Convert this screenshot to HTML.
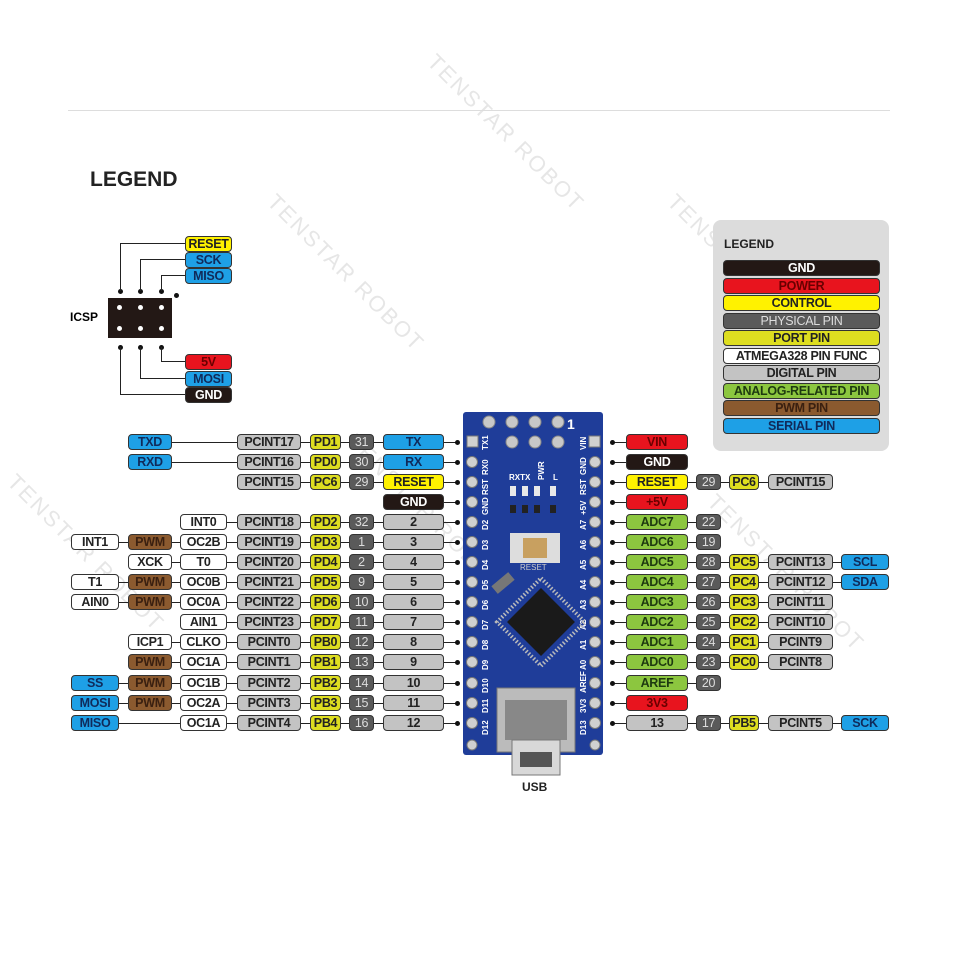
<!DOCTYPE html>
<html><head><meta charset="utf-8"><style>
body{margin:0;width:960px;height:960px;background:#fff;position:relative;overflow:hidden;font-family:"Liberation Sans",sans-serif}
.b{position:absolute;height:14px;line-height:14px;border:1px solid #333;border-radius:4px;font-weight:bold;font-size:12.5px;text-align:center;box-sizing:content-box;letter-spacing:-0.3px;white-space:nowrap;overflow:hidden}
.g{background:#c3c3c3;color:#222}.d{background:#5a5a5a;color:#ddd;font-weight:normal}.p{background:#dede20;color:#222}
.y{background:#fff200;color:#222}.k{background:#231815;color:#fff}.bl{background:#1ea0e6;color:#102a5a}
.w{background:#fff;color:#222}.br{background:#8b5a2f;color:#3a2010}.gr{background:#8cc63f;color:#1e3a10}.r{background:#e8141e;color:#6a0000}
.ln{position:absolute;height:1px;background:#222}
.vl{position:absolute;width:1px;background:#222}
.dot{position:absolute;width:5px;height:5px;border-radius:50%;background:#111}
.wm{position:absolute;color:#e6e6e6;font-size:22px;transform:rotate(45deg);white-space:nowrap;letter-spacing:2px}
</style></head><body>
<div class="wm" style="left:240px;top:260px">TENSTAR ROBOT</div>
<div class="wm" style="left:640px;top:260px">TENSTAR ROBOT</div>
<div class="wm" style="left:320px;top:500px">TENSTAR ROBOT</div>
<div class="wm" style="left:680px;top:560px">TENSTAR ROBOT</div>
<div class="wm" style="left:-20px;top:540px">TENSTAR ROBOT</div>
<div class="wm" style="left:400px;top:120px">TENSTAR ROBOT</div>
<div style="position:absolute;left:68px;top:110px;width:822px;height:1px;background:#ddd"></div>
<div style="position:absolute;left:90px;top:168px;font-size:21px;font-weight:bold;color:#222">LEGEND</div>

<!-- ICSP -->
<div style="position:absolute;left:70px;top:310px;font-size:12px;font-weight:bold">ICSP</div>
<div style="position:absolute;left:108px;top:298px;width:64px;height:40px;background:#231815"></div>
<div class="dot" style="left:117px;top:305px;background:#fff"></div><div class="dot" style="left:138px;top:305px;background:#fff"></div><div class="dot" style="left:159px;top:305px;background:#fff"></div>
<div class="dot" style="left:117px;top:326px;background:#fff"></div><div class="dot" style="left:138px;top:326px;background:#fff"></div><div class="dot" style="left:159px;top:326px;background:#fff"></div>
<div class="dot" style="left:118px;top:289px"></div><div class="dot" style="left:138px;top:289px"></div><div class="dot" style="left:159px;top:289px"></div><div class="dot" style="left:174px;top:293px"></div>
<div class="dot" style="left:118px;top:345px"></div><div class="dot" style="left:138px;top:345px"></div><div class="dot" style="left:159px;top:345px"></div>
<div class="vl" style="left:120px;top:243px;height:48px"></div><div class="ln" style="left:120px;top:243px;width:66px"></div>
<div class="vl" style="left:140px;top:259px;height:32px"></div><div class="ln" style="left:140px;top:259px;width:46px"></div>
<div class="vl" style="left:161px;top:275px;height:16px"></div><div class="ln" style="left:161px;top:275px;width:25px"></div>
<div class="vl" style="left:120px;top:347px;height:47px"></div><div class="ln" style="left:120px;top:394px;width:66px"></div>
<div class="vl" style="left:140px;top:347px;height:31px"></div><div class="ln" style="left:140px;top:378px;width:46px"></div>
<div class="vl" style="left:161px;top:347px;height:14px"></div><div class="ln" style="left:161px;top:361px;width:25px"></div>
<div class="b y" style="left:185px;top:236px;width:45px">RESET</div>
<div class="b bl" style="left:185px;top:252px;width:45px">SCK</div>
<div class="b bl" style="left:185px;top:268px;width:45px">MISO</div>
<div class="b r" style="left:185px;top:354px;width:45px">5V</div>
<div class="b bl" style="left:185px;top:371px;width:45px">MOSI</div>
<div class="b k" style="left:185px;top:387px;width:45px">GND</div>

<!-- Legend box -->
<div style="position:absolute;left:713px;top:220px;width:176px;height:231px;background:#dcdcdc;border-radius:8px"></div>
<div style="position:absolute;left:724px;top:237px;font-size:12px;font-weight:bold;color:#222">LEGEND</div>
<div class="b k" style="left:723px;top:260px;width:155px">GND</div>
<div class="b r" style="left:723px;top:277.5px;width:155px">POWER</div>
<div class="b y" style="left:723px;top:295px;width:155px">CONTROL</div>
<div class="b d" style="left:723px;top:312.5px;width:155px">PHYSICAL PIN</div>
<div class="b p" style="left:723px;top:330px;width:155px">PORT PIN</div>
<div class="b w" style="left:723px;top:347.5px;width:155px">ATMEGA328 PIN FUNC</div>
<div class="b g" style="left:723px;top:365px;width:155px">DIGITAL PIN</div>
<div class="b gr" style="left:723px;top:382.5px;width:155px">ANALOG-RELATED PIN</div>
<div class="b br" style="left:723px;top:400px;width:155px">PWM PIN</div>
<div class="b bl" style="left:723px;top:417.5px;width:155px">SERIAL PIN</div>

<!-- Board -->
<svg style="position:absolute;left:0;top:0" width="960" height="960">
<rect x="463" y="412" width="140" height="343" rx="3" fill="#1f3d99"/>
<g fill="#c8c8c8" stroke="#888">
<circle cx="489" cy="422" r="6"/><circle cx="512" cy="422" r="6"/><circle cx="535" cy="422" r="6"/><circle cx="558" cy="422" r="6"/>
<circle cx="512" cy="442" r="6"/><circle cx="535" cy="442" r="6"/><circle cx="558" cy="442" r="6"/>
</g>
<text x="567" y="429" fill="#fff" font-size="14" font-weight="bold" font-family="Liberation Sans">1</text>
<g fill="#d0d0d0" stroke="#777">
<rect x="467" y="436" width="11" height="11"/><rect x="589" y="436" width="11" height="11"/>
<circle cx="472" cy="462" r="5.5"/><circle cx="472" cy="482" r="5.5"/><circle cx="472" cy="502" r="5.5"/><circle cx="472" cy="522" r="5.5"/><circle cx="472" cy="542" r="5.5"/><circle cx="472" cy="562" r="5.5"/><circle cx="472" cy="582" r="5.5"/><circle cx="472" cy="602" r="5.5"/><circle cx="472" cy="622" r="5.5"/><circle cx="472" cy="642" r="5.5"/><circle cx="472" cy="662" r="5.5"/><circle cx="472" cy="683" r="5.5"/><circle cx="472" cy="703" r="5.5"/><circle cx="472" cy="723" r="5.5"/>
<circle cx="595" cy="462" r="5.5"/><circle cx="595" cy="482" r="5.5"/><circle cx="595" cy="502" r="5.5"/><circle cx="595" cy="522" r="5.5"/><circle cx="595" cy="542" r="5.5"/><circle cx="595" cy="562" r="5.5"/><circle cx="595" cy="582" r="5.5"/><circle cx="595" cy="602" r="5.5"/><circle cx="595" cy="622" r="5.5"/><circle cx="595" cy="642" r="5.5"/><circle cx="595" cy="662" r="5.5"/><circle cx="595" cy="683" r="5.5"/><circle cx="595" cy="703" r="5.5"/><circle cx="595" cy="723" r="5.5"/>
<circle cx="472" cy="745" r="5"/><circle cx="595" cy="745" r="5"/>
</g>
<g fill="#fff" font-size="8" font-weight="bold" font-family="Liberation Sans">
<text transform="translate(488,450) rotate(-90)">TX1</text><text transform="translate(488,475) rotate(-90)">RX0</text><text transform="translate(488,495) rotate(-90)">RST</text><text transform="translate(488,515) rotate(-90)">GND</text><text transform="translate(488,530) rotate(-90)">D2</text><text transform="translate(488,550) rotate(-90)">D3</text><text transform="translate(488,570) rotate(-90)">D4</text><text transform="translate(488,590) rotate(-90)">D5</text><text transform="translate(488,610) rotate(-90)">D6</text><text transform="translate(488,630) rotate(-90)">D7</text><text transform="translate(488,650) rotate(-90)">D8</text><text transform="translate(488,670) rotate(-90)">D9</text><text transform="translate(488,693) rotate(-90)">D10</text><text transform="translate(488,713) rotate(-90)">D11</text><text transform="translate(488,735) rotate(-90)">D12</text>
<text transform="translate(586,450) rotate(-90)">VIN</text><text transform="translate(586,475) rotate(-90)">GND</text><text transform="translate(586,495) rotate(-90)">RST</text><text transform="translate(586,515) rotate(-90)">+5V</text><text transform="translate(586,530) rotate(-90)">A7</text><text transform="translate(586,550) rotate(-90)">A6</text><text transform="translate(586,570) rotate(-90)">A5</text><text transform="translate(586,590) rotate(-90)">A4</text><text transform="translate(586,610) rotate(-90)">A3</text><text transform="translate(586,630) rotate(-90)">A2</text><text transform="translate(586,650) rotate(-90)">A1</text><text transform="translate(586,670) rotate(-90)">A0</text><text transform="translate(586,693) rotate(-90)">AREF</text><text transform="translate(586,713) rotate(-90)">3V3</text><text transform="translate(586,735) rotate(-90)">D13</text>
<text x="509" y="480">RXTX</text><text transform="translate(544,480) rotate(-90)">PWR</text><text x="553" y="480">L</text>
</g>
<g fill="#e8e8e8"><rect x="510" y="486" width="6" height="10"/><rect x="522" y="486" width="6" height="10"/><rect x="534" y="486" width="6" height="10"/><rect x="550" y="486" width="6" height="10"/></g>
<g fill="#222"><rect x="510" y="505" width="6" height="8"/><rect x="522" y="505" width="6" height="8"/><rect x="534" y="505" width="6" height="8"/><rect x="550" y="505" width="6" height="8"/></g>
<rect x="510" y="533" width="50" height="30" fill="#ddd"/><rect x="523" y="538" width="24" height="20" fill="#c8a060"/>
<text x="520" y="570" fill="#ccc" font-size="8" font-family="Liberation Sans">RESET</text>
<rect x="492" y="578" width="22" height="10" fill="#777" transform="rotate(-40 503 583)"/>
<rect x="517" y="598" width="48" height="48" fill="#1a1a1a" transform="rotate(45 541 622)"/>
<rect x="510" y="591" width="62" height="62" fill="none" stroke="#bbb" stroke-width="4" stroke-dasharray="1.5 2" transform="rotate(45 541 622)"/>
<rect x="497" y="688" width="78" height="64" fill="#bbb" stroke="#777"/>
<rect x="505" y="700" width="62" height="40" fill="#888"/>
<rect x="512" y="740" width="48" height="35" fill="#d8d8d8" stroke="#777"/>
<rect x="520" y="752" width="32" height="15" fill="#555"/>
<text x="522" y="791" font-size="12" font-weight="bold" font-family="Liberation Sans" fill="#222">USB</text>
</svg>

<!-- left lines & dots -->
<div class="ln" style="left:171px;top:442px;width:286px"></div>
<div class="ln" style="left:171px;top:462px;width:286px"></div>
<div class="ln" style="left:300px;top:482px;width:157px"></div>
<div class="ln" style="left:443px;top:502px;width:14px"></div>
<div class="ln" style="left:226px;top:522px;width:231px"></div>
<div class="ln" style="left:118px;top:542px;width:339px"></div>
<div class="ln" style="left:171px;top:562px;width:286px"></div>
<div class="ln" style="left:118px;top:582px;width:339px"></div>
<div class="ln" style="left:118px;top:602px;width:339px"></div>
<div class="ln" style="left:226px;top:622px;width:231px"></div>
<div class="ln" style="left:171px;top:642px;width:286px"></div>
<div class="ln" style="left:171px;top:662px;width:286px"></div>
<div class="ln" style="left:118px;top:683px;width:339px"></div>
<div class="ln" style="left:118px;top:703px;width:339px"></div>
<div class="ln" style="left:118px;top:723px;width:339px"></div>
<div class="dot" style="left:455px;top:440px"></div><div class="dot" style="left:455px;top:460px"></div><div class="dot" style="left:455px;top:480px"></div><div class="dot" style="left:455px;top:500px"></div><div class="dot" style="left:455px;top:520px"></div><div class="dot" style="left:455px;top:540px"></div><div class="dot" style="left:455px;top:560px"></div><div class="dot" style="left:455px;top:580px"></div><div class="dot" style="left:455px;top:600px"></div><div class="dot" style="left:455px;top:620px"></div><div class="dot" style="left:455px;top:640px"></div><div class="dot" style="left:455px;top:660px"></div><div class="dot" style="left:455px;top:681px"></div><div class="dot" style="left:455px;top:701px"></div><div class="dot" style="left:455px;top:721px"></div>

<!-- left boxes -->
<div class="b bl" style="left:128px;top:434px;width:42px">TXD</div><div class="b g" style="left:237px;top:434px;width:62px">PCINT17</div><div class="b p" style="left:310px;top:434px;width:29px">PD1</div><div class="b d" style="left:349px;top:434px;width:23px">31</div><div class="b bl" style="left:383px;top:434px;width:59px">TX</div>
<div class="b bl" style="left:128px;top:454px;width:42px">RXD</div><div class="b g" style="left:237px;top:454px;width:62px">PCINT16</div><div class="b p" style="left:310px;top:454px;width:29px">PD0</div><div class="b d" style="left:349px;top:454px;width:23px">30</div><div class="b bl" style="left:383px;top:454px;width:59px">RX</div>
<div class="b g" style="left:237px;top:474px;width:62px">PCINT15</div><div class="b p" style="left:310px;top:474px;width:29px">PC6</div><div class="b d" style="left:349px;top:474px;width:23px">29</div><div class="b y" style="left:383px;top:474px;width:59px">RESET</div>
<div class="b k" style="left:383px;top:494px;width:59px">GND</div>
<div class="b w" style="left:180px;top:514px;width:45px">INT0</div><div class="b g" style="left:237px;top:514px;width:62px">PCINT18</div><div class="b p" style="left:310px;top:514px;width:29px">PD2</div><div class="b d" style="left:349px;top:514px;width:23px">32</div><div class="b g" style="left:383px;top:514px;width:59px">2</div>
<div class="b w" style="left:71px;top:534px;width:46px">INT1</div><div class="b br" style="left:128px;top:534px;width:42px">PWM</div><div class="b w" style="left:180px;top:534px;width:45px">OC2B</div><div class="b g" style="left:237px;top:534px;width:62px">PCINT19</div><div class="b p" style="left:310px;top:534px;width:29px">PD3</div><div class="b d" style="left:349px;top:534px;width:23px">1</div><div class="b g" style="left:383px;top:534px;width:59px">3</div>
<div class="b w" style="left:128px;top:554px;width:42px">XCK</div><div class="b w" style="left:180px;top:554px;width:45px">T0</div><div class="b g" style="left:237px;top:554px;width:62px">PCINT20</div><div class="b p" style="left:310px;top:554px;width:29px">PD4</div><div class="b d" style="left:349px;top:554px;width:23px">2</div><div class="b g" style="left:383px;top:554px;width:59px">4</div>
<div class="b w" style="left:71px;top:574px;width:46px">T1</div><div class="b br" style="left:128px;top:574px;width:42px">PWM</div><div class="b w" style="left:180px;top:574px;width:45px">OC0B</div><div class="b g" style="left:237px;top:574px;width:62px">PCINT21</div><div class="b p" style="left:310px;top:574px;width:29px">PD5</div><div class="b d" style="left:349px;top:574px;width:23px">9</div><div class="b g" style="left:383px;top:574px;width:59px">5</div>
<div class="b w" style="left:71px;top:594px;width:46px">AIN0</div><div class="b br" style="left:128px;top:594px;width:42px">PWM</div><div class="b w" style="left:180px;top:594px;width:45px">OC0A</div><div class="b g" style="left:237px;top:594px;width:62px">PCINT22</div><div class="b p" style="left:310px;top:594px;width:29px">PD6</div><div class="b d" style="left:349px;top:594px;width:23px">10</div><div class="b g" style="left:383px;top:594px;width:59px">6</div>
<div class="b w" style="left:180px;top:614px;width:45px">AIN1</div><div class="b g" style="left:237px;top:614px;width:62px">PCINT23</div><div class="b p" style="left:310px;top:614px;width:29px">PD7</div><div class="b d" style="left:349px;top:614px;width:23px">11</div><div class="b g" style="left:383px;top:614px;width:59px">7</div>
<div class="b w" style="left:128px;top:634px;width:42px">ICP1</div><div class="b w" style="left:180px;top:634px;width:45px">CLKO</div><div class="b g" style="left:237px;top:634px;width:62px">PCINT0</div><div class="b p" style="left:310px;top:634px;width:29px">PB0</div><div class="b d" style="left:349px;top:634px;width:23px">12</div><div class="b g" style="left:383px;top:634px;width:59px">8</div>
<div class="b br" style="left:128px;top:654px;width:42px">PWM</div><div class="b w" style="left:180px;top:654px;width:45px">OC1A</div><div class="b g" style="left:237px;top:654px;width:62px">PCINT1</div><div class="b p" style="left:310px;top:654px;width:29px">PB1</div><div class="b d" style="left:349px;top:654px;width:23px">13</div><div class="b g" style="left:383px;top:654px;width:59px">9</div>
<div class="b bl" style="left:71px;top:675px;width:46px">SS</div><div class="b br" style="left:128px;top:675px;width:42px">PWM</div><div class="b w" style="left:180px;top:675px;width:45px">OC1B</div><div class="b g" style="left:237px;top:675px;width:62px">PCINT2</div><div class="b p" style="left:310px;top:675px;width:29px">PB2</div><div class="b d" style="left:349px;top:675px;width:23px">14</div><div class="b g" style="left:383px;top:675px;width:59px">10</div>
<div class="b bl" style="left:71px;top:695px;width:46px">MOSI</div><div class="b br" style="left:128px;top:695px;width:42px">PWM</div><div class="b w" style="left:180px;top:695px;width:45px">OC2A</div><div class="b g" style="left:237px;top:695px;width:62px">PCINT3</div><div class="b p" style="left:310px;top:695px;width:29px">PB3</div><div class="b d" style="left:349px;top:695px;width:23px">15</div><div class="b g" style="left:383px;top:695px;width:59px">11</div>
<div class="b bl" style="left:71px;top:715px;width:46px">MISO</div><div class="b w" style="left:180px;top:715px;width:45px">OC1A</div><div class="b g" style="left:237px;top:715px;width:62px">PCINT4</div><div class="b p" style="left:310px;top:715px;width:29px">PB4</div><div class="b d" style="left:349px;top:715px;width:23px">16</div><div class="b g" style="left:383px;top:715px;width:59px">12</div>

<!-- right lines & dots -->
<div class="ln" style="left:612px;top:442px;width:14px"></div>
<div class="ln" style="left:612px;top:462px;width:14px"></div>
<div class="ln" style="left:612px;top:482px;width:156px"></div>
<div class="ln" style="left:612px;top:502px;width:14px"></div>
<div class="ln" style="left:612px;top:522px;width:84px"></div>
<div class="ln" style="left:612px;top:542px;width:84px"></div>
<div class="ln" style="left:612px;top:562px;width:230px"></div>
<div class="ln" style="left:612px;top:582px;width:230px"></div>
<div class="ln" style="left:612px;top:602px;width:156px"></div>
<div class="ln" style="left:612px;top:622px;width:156px"></div>
<div class="ln" style="left:612px;top:642px;width:156px"></div>
<div class="ln" style="left:612px;top:662px;width:156px"></div>
<div class="ln" style="left:612px;top:683px;width:84px"></div>
<div class="ln" style="left:612px;top:703px;width:14px"></div>
<div class="ln" style="left:612px;top:723px;width:230px"></div>
<div class="dot" style="left:610px;top:440px"></div><div class="dot" style="left:610px;top:460px"></div><div class="dot" style="left:610px;top:480px"></div><div class="dot" style="left:610px;top:500px"></div><div class="dot" style="left:610px;top:520px"></div><div class="dot" style="left:610px;top:540px"></div><div class="dot" style="left:610px;top:560px"></div><div class="dot" style="left:610px;top:580px"></div><div class="dot" style="left:610px;top:600px"></div><div class="dot" style="left:610px;top:620px"></div><div class="dot" style="left:610px;top:640px"></div><div class="dot" style="left:610px;top:660px"></div><div class="dot" style="left:610px;top:681px"></div><div class="dot" style="left:610px;top:701px"></div><div class="dot" style="left:610px;top:721px"></div>

<!-- right boxes -->
<div class="b r" style="left:626px;top:434px;width:60px">VIN</div>
<div class="b k" style="left:626px;top:454px;width:60px">GND</div>
<div class="b y" style="left:626px;top:474px;width:60px">RESET</div><div class="b d" style="left:696px;top:474px;width:23px">29</div><div class="b p" style="left:729px;top:474px;width:28px">PC6</div><div class="b g" style="left:768px;top:474px;width:63px">PCINT15</div>
<div class="b r" style="left:626px;top:494px;width:60px">+5V</div>
<div class="b gr" style="left:626px;top:514px;width:60px">ADC7</div><div class="b d" style="left:696px;top:514px;width:23px">22</div>
<div class="b gr" style="left:626px;top:534px;width:60px">ADC6</div><div class="b d" style="left:696px;top:534px;width:23px">19</div>
<div class="b gr" style="left:626px;top:554px;width:60px">ADC5</div><div class="b d" style="left:696px;top:554px;width:23px">28</div><div class="b p" style="left:729px;top:554px;width:28px">PC5</div><div class="b g" style="left:768px;top:554px;width:63px">PCINT13</div><div class="b bl" style="left:841px;top:554px;width:46px">SCL</div>
<div class="b gr" style="left:626px;top:574px;width:60px">ADC4</div><div class="b d" style="left:696px;top:574px;width:23px">27</div><div class="b p" style="left:729px;top:574px;width:28px">PC4</div><div class="b g" style="left:768px;top:574px;width:63px">PCINT12</div><div class="b bl" style="left:841px;top:574px;width:46px">SDA</div>
<div class="b gr" style="left:626px;top:594px;width:60px">ADC3</div><div class="b d" style="left:696px;top:594px;width:23px">26</div><div class="b p" style="left:729px;top:594px;width:28px">PC3</div><div class="b g" style="left:768px;top:594px;width:63px">PCINT11</div>
<div class="b gr" style="left:626px;top:614px;width:60px">ADC2</div><div class="b d" style="left:696px;top:614px;width:23px">25</div><div class="b p" style="left:729px;top:614px;width:28px">PC2</div><div class="b g" style="left:768px;top:614px;width:63px">PCINT10</div>
<div class="b gr" style="left:626px;top:634px;width:60px">ADC1</div><div class="b d" style="left:696px;top:634px;width:23px">24</div><div class="b p" style="left:729px;top:634px;width:28px">PC1</div><div class="b g" style="left:768px;top:634px;width:63px">PCINT9</div>
<div class="b gr" style="left:626px;top:654px;width:60px">ADC0</div><div class="b d" style="left:696px;top:654px;width:23px">23</div><div class="b p" style="left:729px;top:654px;width:28px">PC0</div><div class="b g" style="left:768px;top:654px;width:63px">PCINT8</div>
<div class="b gr" style="left:626px;top:675px;width:60px">AREF</div><div class="b d" style="left:696px;top:675px;width:23px">20</div>
<div class="b r" style="left:626px;top:695px;width:60px">3V3</div>
<div class="b g" style="left:626px;top:715px;width:60px">13</div><div class="b d" style="left:696px;top:715px;width:23px">17</div><div class="b p" style="left:729px;top:715px;width:28px">PB5</div><div class="b g" style="left:768px;top:715px;width:63px">PCINT5</div><div class="b bl" style="left:841px;top:715px;width:46px">SCK</div>
</body></html>
